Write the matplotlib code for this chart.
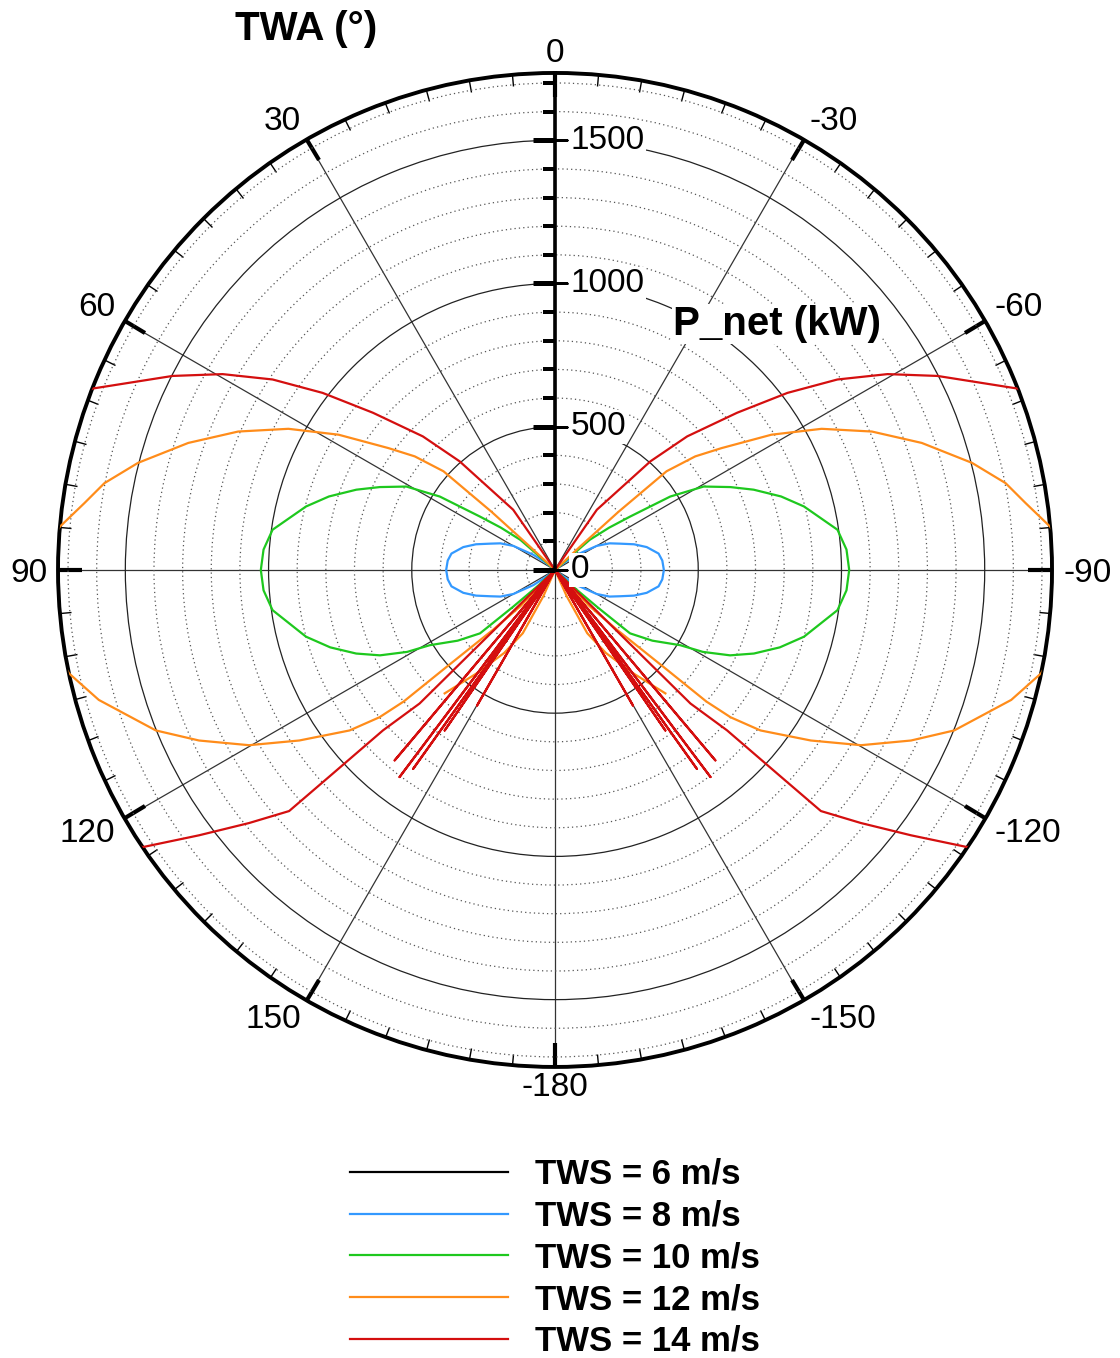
import numpy as np
import matplotlib
matplotlib.use('Agg')
import matplotlib.pyplot as plt
from matplotlib.ticker import FixedLocator, MultipleLocator
from matplotlib.lines import Line2D

plt.rcParams['font.family'] = ['Liberation Sans', 'DejaVu Sans']

# TWA (deg, port side) and P_net (kW), mirrored for starboard
twa_6 = [0, 180]
p_6 = [0, 0]

twa_8 = [48, 52, 55, 60, 64, 68, 72, 76, 81, 85, 90, 95, 99, 104, 108, 112, 116, 120, 125, 128, 132]
p_8 = [0, 40, 92, 168, 212, 245, 290, 330, 366, 376, 380, 376, 366, 330, 290, 245, 212, 168, 92, 40, 0]

twa_10 = [45, 49, 52, 54.6, 57.5, 60.7, 64.7, 68, 72, 75.7, 81.9, 86, 90, 94, 98.1, 105, 109,
          112.8, 116, 119, 121, 126, 130.2, 131.3, 133, 134]
p_10 = [0, 160, 240, 322, 477, 595, 677, 748, 830, 897, 996, 1020, 1027, 1020, 996, 900, 830,
        753, 680, 590, 510, 420, 343, 194, 80, 0]

twa_12 = [46.5, 47, 47.5, 48.5, 51, 53.8, 58, 62.1, 66.4, 70.9, 75.6, 79.1, 81.9, 85, 88, 92, 96, 100,
          102, 105.9, 111.9, 115.6, 119.8, 123.7, 128, 130, 131, 131.8, 134, 136.4, 138,
          158, 156, 153, 148.5, 142.8, 138.2]
p_12 = [0, 120, 300, 520, 630, 720, 891, 1053, 1207, 1355, 1503, 1602, 1659, 1735, 1790, 1810, 1790, 1755,
        1735, 1656, 1502, 1378, 1231, 1073, 910, 800, 700, 507, 300, 175, 0,
        0, 100, 248, 340, 454, 578]

twa_14 = [33, 34.8, 41.3, 44.7, 49.2, 52.7, 56, 59.5, 63.1, 68.6, 72, 80, 90, 100, 110, 118,
          123.9, 126.7, 129.6, 132.2, 132.5, 133, 134.6, 135.5,
          139.9, 141, 143.1, 143.8, 144.5, 145, 145.5, 146, 150.1, 151]
p_14 = [0, 256, 505, 656, 840, 1020, 1189, 1347, 1497, 1735, 1840, 1960, 2000, 2000, 1950, 1850,
        1735, 1550, 1386, 1253, 1053, 821, 664, 0,
        869, 0, 904, 0, 853, 0, 680, 0, 546, 0]

tws_labels = ['TWS = 6 m/s', 'TWS = 8 m/s', 'TWS = 10 m/s', 'TWS = 12 m/s', 'TWS = 14 m/s']
colors = ['black', '#3399ff', '#1ec81e', '#ff8c1a', '#d40f0f']
theta_ticks = np.arange(0, 360, 30)
theta_labels = ['0', '30', '60', '90', '120', '150', '-180', '-150', '-120', '-90', '-60', '-30']

RMAX = 1735

fig = plt.figure(figsize=(11.2, 13.58), dpi=100)
ax = fig.add_axes([0.0518, 0.2143, 0.8875, 0.732], projection='polar')
ax.set_theta_zero_location('N')
ax.set_theta_direction(1)

series = [(twa_6, p_6), (twa_8, p_8), (twa_10, p_10), (twa_12, p_12), (twa_14, p_14)]
for (twa, p), c in zip(series, colors):
    th = np.radians(twa)
    ax.plot(th, p, color=c, lw=1.6, zorder=3)
    ax.plot(-th, p, color=c, lw=1.6, zorder=3)

ax.set_ylim(0, RMAX)

# angular grid / ticks (tick2 = outer circle)
ax.set_xticks(np.radians(theta_ticks))
ax.set_xticklabels([])
ax.xaxis.set_minor_locator(MultipleLocator(np.radians(5)))
ax.xaxis.set_tick_params(which='both', top=True, bottom=False)
ax.tick_params(axis='x', which='major', direction='in', length=17, width=3, colors='k')
ax.tick_params(axis='x', which='minor', direction='in', length=8, width=1, colors='k')
ax.xaxis.grid(True, which='major', color='#333333', lw=0.9)
ax.xaxis.grid(False, which='minor')
for t, lab in zip(theta_ticks, theta_labels):
    a = np.radians(t)
    ux, uy = -np.sin(a), np.cos(a)
    ha = 'right' if ux < -0.3 else ('left' if ux > 0.3 else 'center')
    va = 'baseline' if uy > 0.3 else ('top' if uy < -0.3 else 'center_baseline')
    dy = uy * 11 + (6 if uy < -0.3 else 0)
    ax.annotate(lab, xy=(a, RMAX), xytext=(ux * 11, dy), textcoords='offset pixels',
                ha=ha, va=va, fontsize=24, annotation_clip=False)

# radial grid
ax.set_yticks([500, 1000, 1500])
ax.set_yticklabels([])
minor_r = [r for r in range(100, 1800, 100) if r % 500]
ax.yaxis.set_minor_locator(FixedLocator(minor_r))
ax.yaxis.grid(True, which='major', color='#222222', lw=0.9)
ax.yaxis.grid(True, which='minor', color='#555555', lw=0.9, ls=(0, (1, 2.5)))
ax.tick_params(axis='y', which='both', length=0)
ax.spines['polar'].set_linewidth(2.8)

# radial axis along TWA = 0
major_r = [0, 500, 1000, 1500]
ax.plot([0, 0], [0, RMAX], color='k', lw=2.6, zorder=5)
ax.plot(np.zeros(len(minor_r)), minor_r, ls='none', marker=0, ms=8.5, mew=1.5, color='k', zorder=5)
ax.plot(np.zeros(len(major_r)), major_r, ls='none', marker=0, ms=16, mew=3.5, color='k', zorder=5)
ax.plot(np.zeros(len(major_r)), major_r, ls='none', marker=1, ms=9, mew=1, color='k', zorder=5)
for r in major_r:
    ax.annotate(str(r), xy=(0, r), xytext=(11, 0), textcoords='offset points',
                ha='left', va='center', fontsize=24, zorder=6,
                bbox=dict(fc='white', ec='none', pad=1))

fig.text(235 / 1120, 1 - 40 / 1358, 'TWA (°)', fontsize=29, fontweight='bold', va='baseline')
fig.text(673 / 1120, 1 - 335 / 1358, 'P_net (kW)', fontsize=29, fontweight='bold', va='baseline',
         bbox=dict(fc='white', ec='none', pad=1))

handles = [Line2D([], [], color=c, lw=1.6) for c in colors]
fig.legend(handles, tws_labels, loc='upper left', bbox_to_anchor=(350 / 1120, 1 - 1158 / 1358),
           frameon=False, prop={'weight': 'bold', 'size': 25}, handlelength=4.55,
           handletextpad=0.78, labelspacing=0.25, borderpad=0, borderaxespad=0)

fig.savefig('out.png', dpi=100)
